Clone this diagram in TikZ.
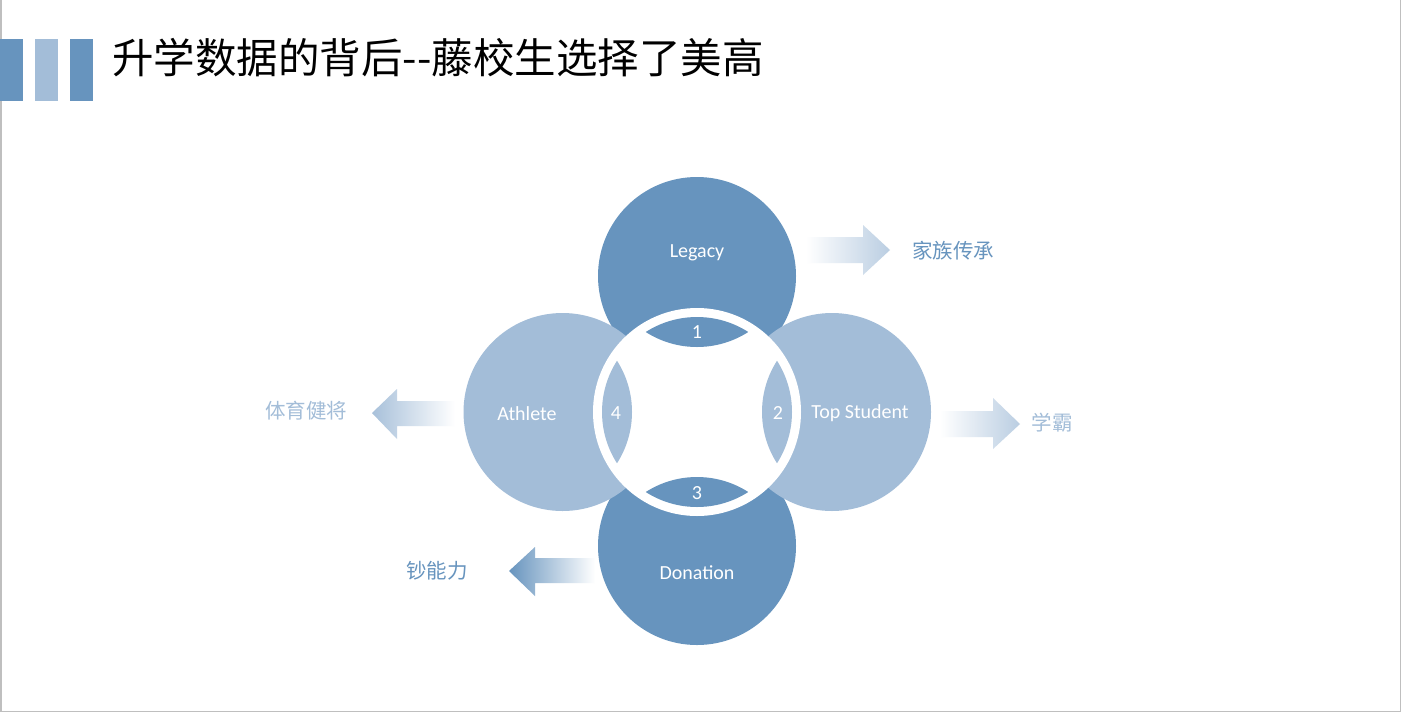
\documentclass[tikz,border=0pt]{standalone}
\usepackage{fontspec}
\setmainfont{Carlito}
\newfontfamily\cjk{Noto Sans CJK SC}
\definecolor{dblue}{RGB}{103,148,190}
\definecolor{lblue}{RGB}{163,189,216}
\definecolor{framegray}{RGB}{191,191,191}
\begin{document}
\begin{tikzpicture}[x=1pt,y=-1pt,
  bigcircle/.style={circle,minimum size=198pt,inner sep=0pt,draw=none},
  ringdisc/.style={circle,minimum size=208pt,inner sep=0pt,fill=white,draw=none},
  circlabel/.style={text=white,font=\fontsize{20}{24}\selectfont,inner sep=0pt},
  numlabel/.style={text=white,font=\fontsize{20}{24}\selectfont,inner sep=0pt},
  cjklabel/.style={font=\cjk\fontsize{20.5}{24}\selectfont,inner sep=0pt},
  titletext/.style={font=\cjk\fontsize{41.5}{50}\selectfont,inner sep=0pt,anchor=west},
  bar/.style={draw=none}]
\useasboundingbox (0,0) rectangle (1402,713);
\fill[white] (0,0) rectangle (1402,713);
% frame
\draw[framegray,line width=1.5pt] (0.75,0) -- (0.75,711.5) -- (1400.7,711.5) -- (1400.7,0);
% title bars
\fill[dblue] (0,39) rectangle (23,101);
\fill[lblue] (35,39) rectangle (58,101);
\fill[dblue] (70,39) rectangle (93,101);
\node[titletext] (title) at (112,58) {升学数据的背后--藤校生选择了美高};
% circles
\node[bigcircle,fill=dblue] (legacy) at (697,276) {};
\node[bigcircle,fill=dblue] (donation) at (697,546) {};
\node[bigcircle,fill=lblue] (athlete) at (562.5,412) {};
\node[bigcircle,fill=lblue] (topstudent) at (832,412) {};
\node[ringdisc] (ring) at (697,412) {};
\coordinate (ctr) at (697,412);
% lenses
\begin{scope}
  \clip (ctr) circle (95);
  \fill[dblue] (697,252) circle (95);
  \fill[dblue] (697,572) circle (95);
  \fill[lblue] (537,412) circle (95);
  \fill[lblue] (857,412) circle (95);
\end{scope}
% circle labels
\node[circlabel] (tlegacy) at (697,253) {Legacy};
\node[circlabel] (tdonation) at (697,573) {Donation};
\node[circlabel] (tathlete) at (527,413.5) {Athlete};
\node[circlabel] (ttop) at (860,413.5) {Top Student};
\node[numlabel] (n1) at (697,332.5) {1};
\node[numlabel] (n2) at (778,413) {2};
\node[numlabel] (n3) at (697,493.5) {3};
\node[numlabel] (n4) at (616,413) {4};
% block arrows
\shade[left color=white,right color=lblue!75]
  (806,237) -- (863,237) -- (863,225) -- (890,250) -- (863,275) -- (863,263) -- (806,263) -- cycle;
\shade[left color=white,right color=lblue!75]
  (940,411) -- (993,411) -- (993,398) -- (1020,424) -- (993,449) -- (993,437) -- (940,437) -- cycle;
\shade[left color=lblue!95,right color=white]
  (455,401) -- (397,401) -- (397,389) -- (372,413) -- (397,439) -- (397,426) -- (455,426) -- cycle;
\shade[left color=dblue,right color=white]
  (595,558) -- (535,558) -- (535,547) -- (509,571) -- (535,596) -- (535,583) -- (595,583) -- cycle;
% side labels
\node[cjklabel,text=dblue] (family) at (953,251) {家族传承};
\node[cjklabel,text=lblue] (xueba) at (1052,423) {学霸};
\node[cjklabel,text=lblue] (sport) at (306,411) {体育健将};
\node[cjklabel,text=dblue] (money) at (437,571) {钞能力};
\end{tikzpicture}
\end{document}
